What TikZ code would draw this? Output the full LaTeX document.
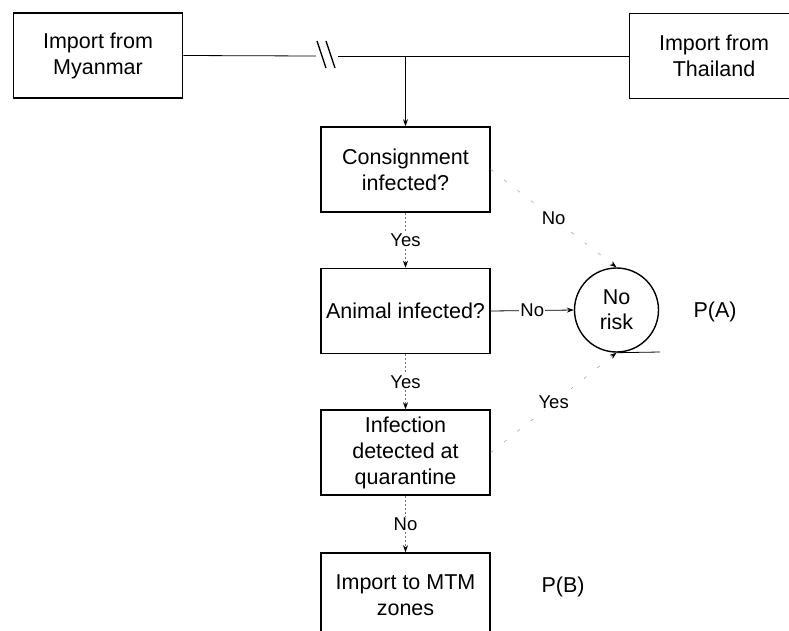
\documentclass[tikz,border=0pt]{standalone}
\usepackage{fontspec}
\setmainfont{Liberation Sans}
\usetikzlibrary{arrows.meta}
\begin{document}
\begin{tikzpicture}[x=1pt,y=-1pt,
  box/.style={draw,line width=1.6pt,minimum width=169pt,minimum height=85pt,align=center,font=\fontsize{21.5}{26}\selectfont,inner sep=0pt},
  lab/.style={font=\fontsize{18.5}{21}\selectfont,fill=white,inner sep=1pt},
  tip/.style={-{Stealth[length=7pt,width=5pt,black]}},
  conn/.style={draw=black,line width=0.8pt},
  faint/.style={draw=black!55,line width=0.6pt,dash pattern=on 2pt off 2pt},
  diag/.style={draw=black!35,line width=0.6pt,dash pattern=on 3pt off 14pt}]
\useasboundingbox (0,0) rectangle (789,630);
\clip (0,0) rectangle (789,630);
\node[box] (mya) at (98,55.5) {Import from\\Myanmar};
\node[box] (tha) at (714,56) {Import from\\Thailand};
\node[box] (con) at (405.5,169.5) {Consignment\\infected?};
\node[box] (ani) at (405.5,311) {Animal infected?};
\node[box] (inf) at (405.5,452.5) {Infection\\detected at\\quarantine};
\node[box] (mtm) at (405.5,595.5) {Import to MTM\\zones};
\node[circle,draw,line width=1.4pt,minimum size=84pt,inner sep=0pt,align=center,font=\fontsize{21.5}{25}\selectfont] (nr) at (616.5,310) {No\\risk};
\node[font=\fontsize{21.5}{25}\selectfont] (pa) at (715,312) {P(A)};
\node[font=\fontsize{21.5}{25}\selectfont] (pb) at (563,587) {P(B)};
\coordinate (brkL) at (316,56);
\coordinate (brkR) at (338,56);
\coordinate (jn) at (405.5,56);
\coordinate (tg) at (660,352);
\draw[conn] (mya.east) -- (brkL);
\draw[conn] (brkR) -- (tha.west);
\draw[line width=1.3pt] (317,41) -- (326,68);
\draw[line width=1.3pt] (326,41) -- (335,68);
\draw[conn,tip] (jn) -- (con.north);
\draw[faint,tip] (con.south) -- node[lab]{Yes} (ani.north);
\draw[faint,tip] (ani.south) -- node[lab]{Yes} (inf.north);
\draw[faint,tip] (inf.south) -- node[lab]{No} (mtm.north);
\draw[conn,tip] (ani.east) -- node[lab]{No} (nr.west);
\draw[diag,tip] (con.east) -- node[lab]{No} (nr.north);
\draw[diag,tip] (inf.east) -- node[lab]{Yes} (nr.south);
\draw[conn] (nr.south) -- (tg);
\end{tikzpicture}
\end{document}
